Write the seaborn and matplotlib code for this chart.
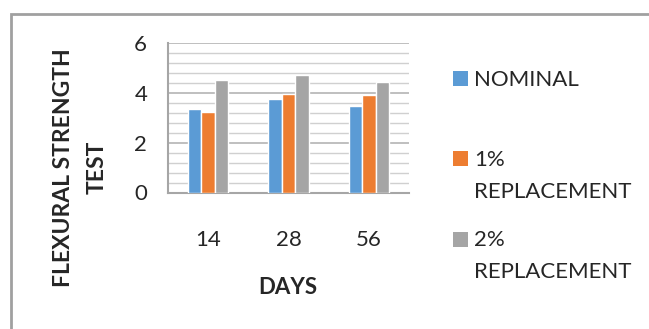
import pandas as pd
import seaborn as sns
import matplotlib.pyplot as plt
from matplotlib.patches import Rectangle
from matplotlib.ticker import MultipleLocator

days = ["14", "28", "56"]
series = ["NOMINAL", "1%\nREPLACEMENT", "2%\nREPLACEMENT"]
nominal = [3.35, 3.75, 3.46]
repl_1 = [3.23, 3.94, 3.91]
repl_2 = [4.53, 4.73, 4.42]
colors = ["#5B9BD5", "#ED7D31", "#A5A5A5"]

df = pd.DataFrame({
    "DAYS": days * 3,
    "serie": [series[0]] * 3 + [series[1]] * 3 + [series[2]] * 3,
    "valor": nominal + repl_1 + repl_2,
})

sns.set_style("white")
plt.rcParams['font.family'] = ['Lato', 'DejaVu Sans']

W, H = 649, 329
fig = plt.figure(figsize=(W / 100, H / 100), dpi=100)
ax = fig.add_axes([168 / W, (H - 192.5) / H, 241 / W, 149.5 / H])

sns.barplot(data=df, x="DAYS", y="valor", hue="serie", palette=colors,
            width=0.5, gap=0, saturation=1, ax=ax, legend=False, zorder=3)

ax.set_ylim(0, 6)
ax.yaxis.set_major_locator(MultipleLocator(2))
ax.yaxis.set_minor_locator(MultipleLocator(0.4))
ax.grid(True, which="major", axis="y", color="#bababa", linewidth=1.3, zorder=0)
ax.grid(True, which="minor", axis="y", color="#d0d0d0", linewidth=1.0, zorder=0)
ax.set_axisbelow(True)
ax.tick_params(axis="y", which="major", length=6, color="#bababa", width=1.3,
               labelsize=16, pad=9)
ax.tick_params(axis="y", which="minor", length=0)
ax.tick_params(axis="x", length=0, labelsize=16, pad=27)

for side in ["top", "right"]:
    ax.spines[side].set_visible(False)
for side in ["left", "bottom"]:
    ax.spines[side].set_color("#a6a6a6")
    ax.spines[side].set_linewidth(1.5)

ax.set_ylabel("FLEXURAL STRENGTH\nTEST", fontsize=16.5, fontweight="bold", linespacing=1.75)
ax.yaxis.set_label_coords((108 - 168) / 241, 0.167)
ax.set_xlabel("DAYS", fontsize=16, fontweight="bold")
ax.xaxis.set_label_coords((288 - 168) / 241, (192.5 - 277) / 149.5)

# legend a la Excel: entradas espacadas igualmente, quadrado na 1a linha
for i, (lab, c) in enumerate(zip(series, colors)):
    top = 70.5 + i * 80.5
    fig.patches.append(Rectangle((453 / W, (H - top - 15) / H), 15 / W, 15 / H,
                                 transform=fig.transFigure, facecolor=c,
                                 edgecolor="none"))
    fig.text(474 / W, (H - top + 1) / H, lab, fontsize=16, va="top", ha="left",
             linespacing=1.75)

fig.patches.append(Rectangle((11 / W, -0.2), 1.2, 1.2 - 14 / H,
                             transform=fig.transFigure, fill=False,
                             edgecolor="#a0a0a0", linewidth=2))

plt.savefig("out.png", dpi=100)
